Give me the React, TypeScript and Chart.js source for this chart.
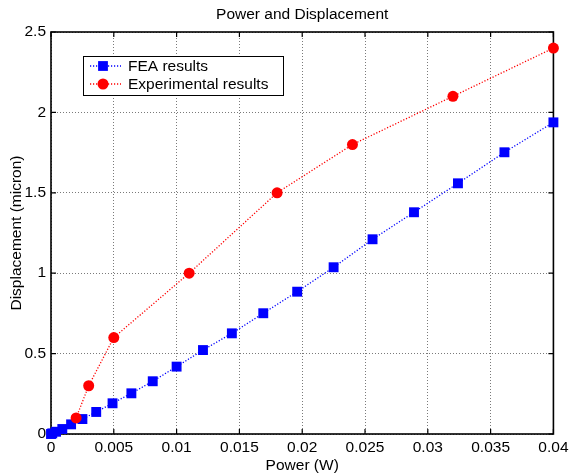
import React, { useEffect, useRef } from 'react';
import { Chart, registerables } from 'chart.js';

Chart.register(...registerables);

// ---- data ----
const feaPower = [0, 0.0001, 0.0004, 0.0009, 0.0016, 0.0025, 0.0036, 0.0049, 0.0064, 0.0081, 0.01, 0.0121, 0.0144, 0.0169, 0.0196, 0.0225, 0.0256, 0.0289, 0.0324, 0.0361, 0.04];
const feaDisp = [0, 0.004, 0.014, 0.031, 0.06, 0.093, 0.137, 0.191, 0.253, 0.328, 0.419, 0.522, 0.626, 0.751, 0.885, 1.037, 1.211, 1.379, 1.559, 1.752, 1.938];
const expPower = [0.002, 0.003, 0.005, 0.011, 0.018, 0.024, 0.032, 0.04];
const expDisp = [0.1, 0.3, 0.6, 1.0, 1.5, 1.8, 2.1, 2.4];

const xTicks = [0, 0.005, 0.01, 0.015, 0.02, 0.025, 0.03, 0.035, 0.04];
const xTickLabels = ['0', '0.005', '0.01', '0.015', '0.02', '0.025', '0.03', '0.035', '0.04'];
const yTicks = [0, 0.5, 1, 1.5, 2, 2.5];
const yTickLabels = ['0', '0.5', '1', '1.5', '2', '2.5'];

const titleText = 'Power and Displacement';
const xTitle = 'Power (W)';
const yTitle = 'Displacement (micron)';
const feaLabel = 'FEA results';
const expLabel = 'Experimental results';

const FONT = "'Liberation Sans', Arial, Helvetica, sans-serif";
const FS = 15.5;

const legendItems = [
  { label: feaLabel, color: '#0000ff', style: 'rect' },
  { label: expLabel, color: '#ff0000', style: 'circle' },
];

function drawMarker(ctx: CanvasRenderingContext2D, style: string, x: number, y: number, color: string) {
  ctx.save();
  ctx.fillStyle = color;
  if (style === 'rect') {
    const s = 4.9;
    ctx.fillRect(x - s, y - s, 2 * s, 2 * s);
  } else {
    ctx.beginPath();
    ctx.arc(x, y, 5.5, 0, Math.PI * 2);
    ctx.fill();
  }
  ctx.restore();
}

const framePlugin = {
  id: 'matlabFrame',
  beforeDatasetsDraw(chart: any) {
    const { ctx, chartArea: a, scales } = chart;
    ctx.save();
    ctx.strokeStyle = '#000';
    ctx.lineWidth = 1.6;
    ctx.setLineDash([]);
    ctx.strokeRect(a.left, a.top, a.right - a.left, a.bottom - a.top);
    const tl = 5;
    ctx.lineWidth = 1.2;
    ctx.beginPath();
    for (const v of xTicks) {
      const px = scales.x.getPixelForValue(v);
      ctx.moveTo(px, a.bottom);
      ctx.lineTo(px, a.bottom - tl);
      ctx.moveTo(px, a.top);
      ctx.lineTo(px, a.top + tl);
    }
    for (const v of yTicks) {
      const py = scales.y.getPixelForValue(v);
      ctx.moveTo(a.left, py);
      ctx.lineTo(a.left + tl, py);
      ctx.moveTo(a.right, py);
      ctx.lineTo(a.right - tl, py);
    }
    ctx.stroke();
    // title
    ctx.fillStyle = '#000';
    ctx.font = `${FS}px ${FONT}`;
    ctx.textAlign = 'center';
    ctx.textBaseline = 'middle';
    ctx.fillText(titleText, (a.left + a.right) / 2, 15);
    ctx.restore();
  },
  afterDatasetsDraw(chart: any) {
    const { ctx } = chart;
    ctx.save();
    const bx = 83, by = 56, bw = 200, bh = 39;
    ctx.fillStyle = '#fff';
    ctx.fillRect(bx, by, bw, bh);
    ctx.strokeStyle = '#000';
    ctx.lineWidth = 1;
    ctx.strokeRect(bx + 0.5, by + 0.5, bw, bh);
    legendItems.forEach((it, i) => {
      const y = 66 + i * 18;
      ctx.strokeStyle = it.color;
      ctx.lineWidth = 1.3;
      ctx.setLineDash([1.2, 1.8]);
      ctx.beginPath();
      ctx.moveTo(90, y);
      ctx.lineTo(121, y);
      ctx.stroke();
      ctx.setLineDash([]);
      drawMarker(ctx, it.style, 103, y, it.color);
      ctx.fillStyle = '#000';
      ctx.font = `${FS}px ${FONT}`;
      ctx.textAlign = 'left';
      ctx.textBaseline = 'middle';
      ctx.fillText(it.label, 128, y + 0.5);
    });
    ctx.restore();
  },
};

export default function App() {
  const ref = useRef<HTMLCanvasElement>(null);
  useEffect(() => {
    const font = { family: FONT, size: FS };
    const chart = new Chart(ref.current as HTMLCanvasElement, {
      type: 'scatter',
      data: {
        datasets: [
          {
            label: expLabel,
            data: expPower.map((x, i) => ({ x, y: expDisp[i] })),
            showLine: true,
            borderColor: '#ff0000',
            borderWidth: 1.3,
            borderDash: [1.2, 1.8],
            pointStyle: 'circle',
            pointRadius: 5.5,
            pointBackgroundColor: '#ff0000',
            pointBorderColor: '#ff0000',
            pointBorderWidth: 0,
            clip: false,
            order: 0,
          } as any,
          {
            label: feaLabel,
            data: feaPower.map((x, i) => ({ x, y: feaDisp[i] })),
            showLine: true,
            borderColor: '#0000ff',
            borderWidth: 1.3,
            borderDash: [1.2, 1.8],
            pointStyle: 'rect',
            pointRadius: 7,
            pointBackgroundColor: '#0000ff',
            pointBorderColor: '#0000ff',
            pointBorderWidth: 0,
            clip: false,
            order: 1,
          } as any,
        ],
      },
      options: {
        responsive: false,
        animation: false,
        events: [],
        layout: { padding: { left: 0, top: 32, right: 15, bottom: 0 } },
        plugins: {
          legend: { display: false },
          tooltip: { enabled: false },
          title: { display: false },
        },
        scales: {
          x: {
            type: 'linear',
            min: 0,
            max: 0.04,
            afterBuildTicks: (s: any) => { s.ticks = xTicks.map((v) => ({ value: v })); },
            afterFit: (s: any) => { s.height = 42; },
            ticks: {
              autoSkip: false,
              maxRotation: 0,
              minRotation: 0,
              padding: 4.5,
              color: '#000',
              font,
              callback: (_v: any, i: number) => xTickLabels[i],
            },
            grid: { color: '#7a7a7a', lineWidth: 1, drawTicks: false },
            border: { display: false, dash: [1, 2] },
            title: { display: true, text: xTitle, color: '#000', font, padding: { top: 0, bottom: 1.2 } },
          },
          y: {
            type: 'linear',
            min: 0,
            max: 2.5,
            afterBuildTicks: (s: any) => { s.ticks = yTicks.map((v) => ({ value: v })); },
            afterFit: (s: any) => { s.width = 51; },
            ticks: {
              autoSkip: false,
              padding: 5,
              color: '#000',
              font,
              callback: (_v: any, i: number) => yTickLabels[i],
            },
            grid: { color: '#7a7a7a', lineWidth: 1, drawTicks: false },
            border: { display: false, dash: [1, 2] },
            title: { display: true, text: yTitle, color: '#000', font, padding: { top: 7.7, bottom: 0 } },
          },
        },
      } as any,
      plugins: [framePlugin],
    });
    return () => chart.destroy();
  }, []);
  return (
    <div style={{ position: 'fixed', left: 0, top: 0, width: 573, height: 476, background: '#fff' }}>
      <canvas ref={ref} width={573} height={476} style={{ display: 'block' }} />
    </div>
  );
}
